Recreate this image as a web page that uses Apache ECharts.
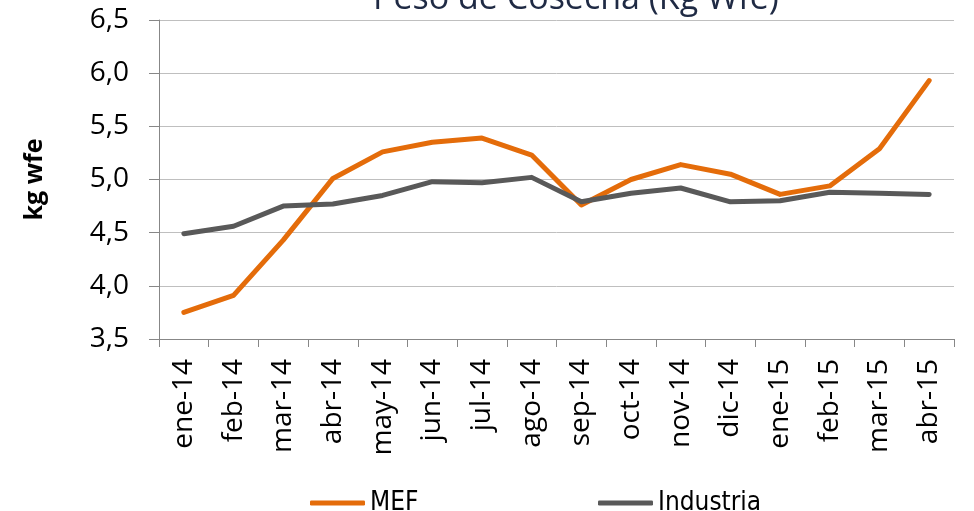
<!DOCTYPE html>
<html>
<head>
<meta charset="utf-8">
<script src="https://cdn.jsdelivr.net/npm/echarts@6/dist/echarts.min.js"></script>
<style>html,body{margin:0;padding:0;background:#fff;}#c{width:974px;height:511px;}</style>
</head>
<body>
<div id="c"></div>
<script>
const categories = ['ene-14','feb-14','mar-14','abr-14','may-14','jun-14','jul-14','ago-14','sep-14','oct-14','nov-14','dic-14','ene-15','feb-15','mar-15','abr-15'];
const mefValues = [3.75, 3.91, 4.43, 5.01, 5.26, 5.35, 5.39, 5.23, 4.76, 5.00, 5.14, 5.05, 4.86, 4.94, 5.29, 5.93];
const industriaValues = [4.49, 4.56, 4.75, 4.77, 4.85, 4.98, 4.97, 5.02, 4.79, 4.87, 4.92, 4.79, 4.80, 4.88, 4.87, 4.86];
const titleText = 'Peso de Cosecha (Kg Wfe)';
const yAxisName = 'kg wfe';

const legendFont = "'Liberation Sans Narrow', 'DejaVu Sans Condensed', 'Roboto Condensed', 'Open Sans', sans-serif";
const chart = echarts.init(document.getElementById('c'), null, {renderer: 'canvas'});
chart.setOption({
  animation: false,
  backgroundColor: '#ffffff',
  title: {
    text: titleText,
    left: 368,
    top: -23,
    textStyle: {fontFamily: 'Open Sans', fontSize: 34, fontWeight: 'normal', color: '#1F2A44'}
  },
  grid: {left: 159, right: 20, top: 20, bottom: 172, containLabel: false},
  legend: [
    {
      data: ['MEF'], left: 305, top: 485, icon: 'roundRect', itemWidth: 55, itemHeight: 5,
      textStyle: {fontFamily: legendFont, fontSize: 26, color: '#000'}
    },
    {
      data: ['Industria'], left: 593, top: 485, icon: 'roundRect', itemWidth: 55, itemHeight: 5,
      textStyle: {fontFamily: legendFont, fontSize: 26, color: '#000'}
    }
  ],
  xAxis: {
    type: 'category',
    data: categories,
    boundaryGap: true,
    axisLine: {lineStyle: {color: '#878787', width: 1}},
    axisTick: {show: true, length: 8, interval: 0, lineStyle: {color: '#878787'}},
    axisLabel: {rotate: 90, interval: 0, margin: 20, fontFamily: 'Open Sans', fontSize: 28, color: '#000'}
  },
  yAxis: {
    type: 'value',
    min: 3.5, max: 6.5, interval: 0.5,
    name: yAxisName,
    nameLocation: 'middle',
    nameGap: 112,
    nameRotate: 90,
    nameTextStyle: {fontFamily: 'Open Sans', fontWeight: 'bold', fontSize: 25, color: '#000'},
    axisLine: {show: true, lineStyle: {color: '#878787', width: 1}},
    axisTick: {show: true, length: 10, lineStyle: {color: '#878787'}},
    axisLabel: {margin: 30, fontFamily: 'Open Sans', fontSize: 28, color: '#000',
      formatter: v => v.toFixed(1).replace('.', ',')},
    splitLine: {show: true, lineStyle: {color: '#BFBFBF', width: 1}}
  },
  series: [
    {
      name: 'MEF', type: 'line', data: mefValues, symbol: 'none',
      lineStyle: {color: '#E46C0A', width: 5, cap: 'round', join: 'round'},
      itemStyle: {color: '#E46C0A'}
    },
    {
      name: 'Industria', type: 'line', data: industriaValues, symbol: 'none',
      lineStyle: {color: '#595959', width: 5, cap: 'round', join: 'round'},
      itemStyle: {color: '#595959'}
    }
  ]
});
</script>
</body>
</html>
